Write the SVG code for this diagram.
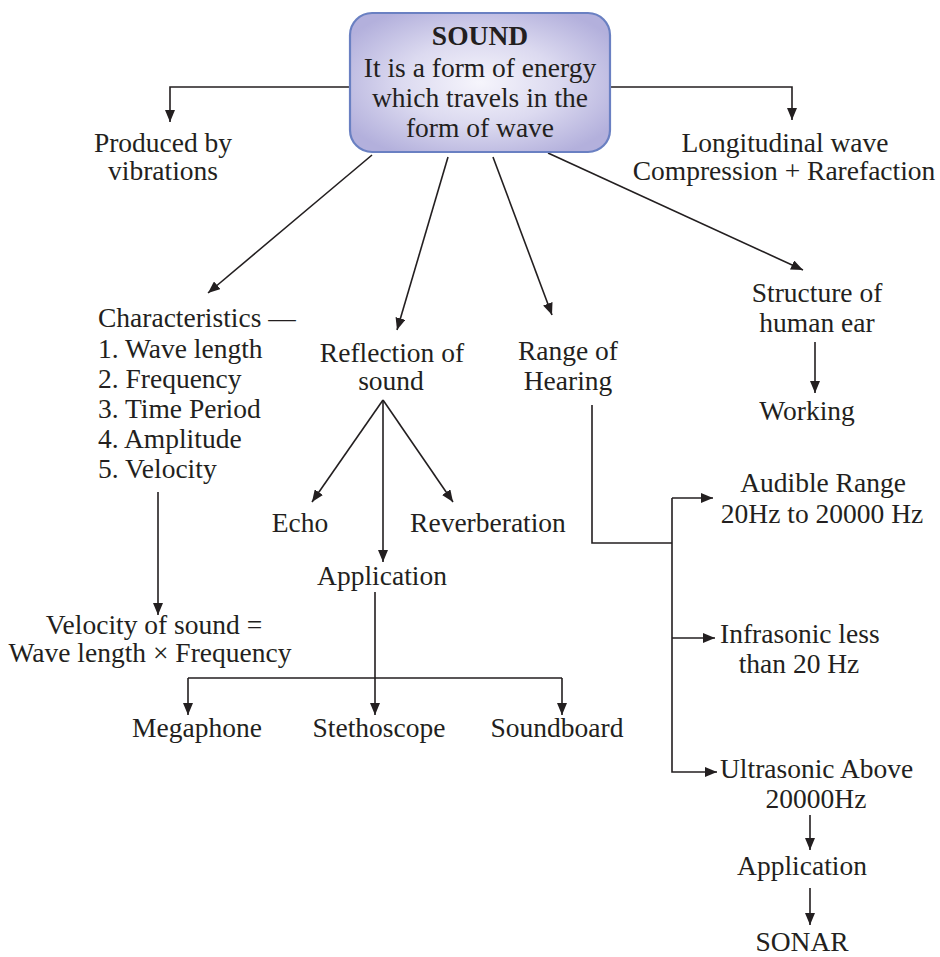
<svg xmlns="http://www.w3.org/2000/svg" width="940" height="957" viewBox="0 0 940 957">
<style>
text{font-family:'Liberation Serif',Tinos,'Times New Roman',Times,'DejaVu Serif',serif;font-size:27.5px;fill:#231f20}
.c{text-anchor:middle}
.b{font-weight:bold}
.ln{fill:none;stroke:#231f20;stroke-width:1.6}
.ar{marker-end:url(#ah)}
</style>
<defs>
<marker id="ah" viewBox="0 0 12 10" refX="12" refY="5" markerWidth="12" markerHeight="10" markerUnits="userSpaceOnUse" orient="auto">
<path d="M0,0 L12,5 L0,10 z" fill="#231f20"/>
</marker>
<radialGradient id="bg" cx="0.5" cy="0.5" r="0.6">
<stop offset="0" stop-color="#f6f5fc"/>
<stop offset="0.5" stop-color="#dcdaf0"/>
<stop offset="1" stop-color="#b3b0dc"/>
</radialGradient>
</defs>
<rect width="940" height="957" fill="#fff"/>
<g id="connectors">
<path class="ln ar" d="M350,87 H170 V122"/>
<path class="ln ar" d="M610,87 H792 V120"/>
<path class="ln ar" d="M372,155 L208,293"/>
<path class="ln ar" d="M448,157 L397,330"/>
<path class="ln ar" d="M493,157 L552,315"/>
<path class="ln ar" d="M548,153 L803,270"/>
<path class="ln ar" d="M158,492 V615"/>
<path class="ln ar" d="M815,342 V393"/>
<path class="ln ar" d="M383,400 L312,502"/>
<path class="ln ar" d="M383,400 L453,502"/>
<path class="ln ar" d="M383,400 V562"/>
<path class="ln" d="M375,592 V678 M188,678 H562"/>
<path class="ln ar" d="M188,678 V715"/>
<path class="ln ar" d="M375,678 V715"/>
<path class="ln ar" d="M562,678 V715"/>
<path class="ln" d="M592,405 V543 H672"/>
<path class="ln ar" d="M672,498 V772 H717"/>
<path class="ln ar" d="M672,498 H713"/>
<path class="ln ar" d="M672,638 H715"/>
<path class="ln ar" d="M810,815 V850"/>
<path class="ln ar" d="M810,888 V925"/>
</g>
<g id="sound">
<rect x="350" y="13" width="260" height="139" rx="22" fill="url(#bg)" stroke="#6a80c2" stroke-width="2.2"/>
<text class="c b" x="480" y="45">SOUND</text>
<text class="c" x="480" y="77">It is a form of energy</text>
<text class="c" x="480" y="107">which travels in the</text>
<text class="c" x="480" y="137">form of wave</text>
</g>
<g id="produced">
<text class="c" x="163" y="152">Produced by</text>
<text class="c" x="163" y="180">vibrations</text>
</g>
<g id="longitudinal">
<text class="c" x="785" y="152">Longitudinal wave</text>
<text class="c" x="784" y="180">Compression + Rarefaction</text>
</g>
<g id="characteristics">
<text x="98" y="327">Characteristics —</text>
<text x="98" y="358">1. Wave length</text>
<text x="98" y="388">2. Frequency</text>
<text x="98" y="418">3. Time Period</text>
<text x="98" y="448">4. Amplitude</text>
<text x="98" y="478">5. Velocity</text>
</g>
<g id="velocity">
<text class="c" x="154" y="634">Velocity of sound =</text>
<text class="c" x="150" y="662">Wave length × Frequency</text>
</g>
<g id="reflection">
<text class="c" x="392" y="362">Reflection of</text>
<text class="c" x="391" y="390">sound</text>
</g>
<g id="echo"><text class="c" x="300" y="532">Echo</text></g>
<g id="reverberation"><text class="c" x="488" y="532">Reverberation</text></g>
<g id="application1"><text class="c" x="382" y="585">Application</text></g>
<g id="megaphone"><text class="c" x="197" y="737">Megaphone</text></g>
<g id="stethoscope"><text class="c" x="379" y="737">Stethoscope</text></g>
<g id="soundboard"><text class="c" x="557" y="737">Soundboard</text></g>
<g id="range">
<text class="c" x="568" y="360">Range of</text>
<text class="c" x="568" y="390">Hearing</text>
</g>
<g id="structure">
<text class="c" x="817" y="302">Structure of</text>
<text class="c" x="817" y="332">human ear</text>
</g>
<g id="working"><text class="c" x="807" y="420">Working</text></g>
<g id="audible">
<text class="c" x="823" y="492">Audible Range</text>
<text class="c" x="822" y="523">20Hz to 20000 Hz</text>
</g>
<g id="infrasonic">
<text x="720" y="643">Infrasonic less</text>
<text class="c" x="799" y="673">than 20 Hz</text>
</g>
<g id="ultrasonic">
<text x="720" y="778">Ultrasonic Above</text>
<text class="c" x="816" y="808">20000Hz</text>
</g>
<g id="application2"><text class="c" x="802" y="875">Application</text></g>
<g id="sonar"><text class="c" x="802" y="951">SONAR</text></g>
</svg>
